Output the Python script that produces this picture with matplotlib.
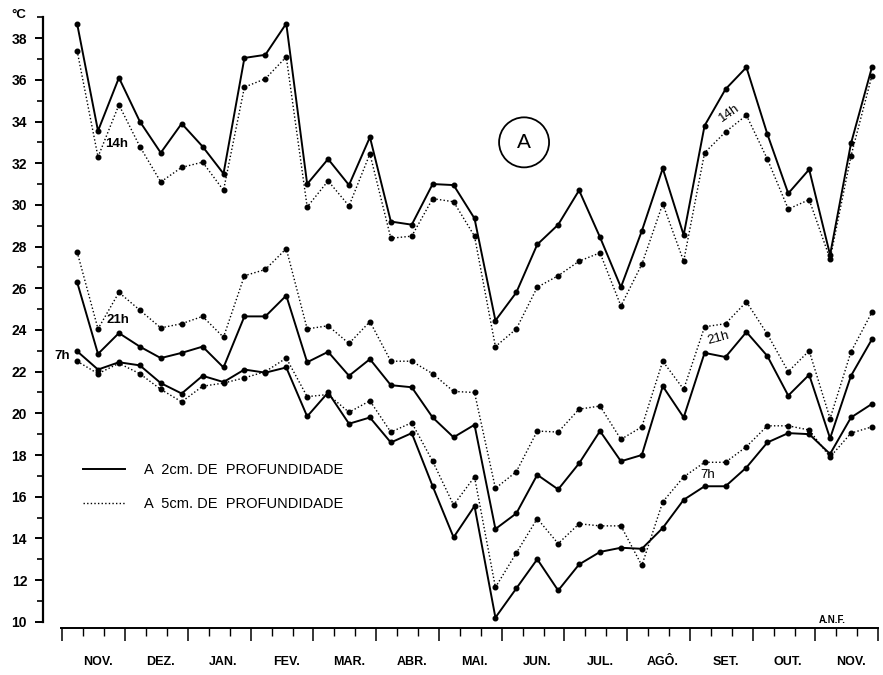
"""
    Temperatura do solo a 2 cm e 5 cm de profundidade (7h, 14h, 21h)
"""

import matplotlib
matplotlib.use('Agg')
import matplotlib.pyplot as plt
from matplotlib.lines import Line2D
from matplotlib.patches import Ellipse
import numpy as np

plt.rcParams['font.family'] = ['Liberation Sans', 'DejaVu Sans']

# meses (3 decendios por mes, de NOV. a NOV.)
meses = ["NOV.", "DEZ.", "JAN.", "FEV.", "MAR.", "ABR.", "MAI.",
         "JUN.", "JUL.", "AGÔ.", "SET.", "OUT.", "NOV."]

# 14h
t14_2cm = [38.7, 33.55, 36.1, 34.0, 32.5, 33.9, 32.8, 31.5, 37.05, 37.2, 38.7,
           31.0, 32.2, 30.95, 33.25, 29.2, 29.05, 31.0, 30.95, 29.35, 24.45,
           25.8, 28.1, 29.05, 30.7, 28.45, 26.05, 28.75, 31.75, 28.55, 33.8,
           35.55, 36.6, 33.4, 30.55, 31.7, 27.6, 32.95, 36.6]
t14_5cm = [37.4, 32.3, 34.8, 32.8, 31.1, 31.8, 32.05, 30.7, 35.65, 36.05, 37.1,
           29.9, 31.15, 29.95, 32.45, 28.4, 28.5, 30.3, 30.15, 28.5, 23.2,
           24.05, 26.05, 26.6, 27.3, 27.7, 25.15, 27.15, 30.05, 27.3, 32.5,
           33.5, 34.3, 32.2, 29.8, 30.25, 27.4, 32.35, 36.2]
# 21h
t21_2cm = [26.3, 22.85, 23.85, 23.2, 22.65, 22.9, 23.2, 22.2, 24.65, 24.65, 25.65,
           22.45, 22.95, 21.8, 22.6, 21.35, 21.25, 19.8, 18.85, 19.45, 14.45,
           15.2, 17.05, 16.35, 17.6, 19.15, 17.7, 18.0, 21.3, 19.8, 22.9,
           22.7, 23.9, 22.75, 20.85, 21.85, 18.8, 21.8, 23.55]
t21_5cm = [27.75, 24.05, 25.8, 24.95, 24.1, 24.3, 24.65, 23.65, 26.6, 26.9, 27.9,
           24.05, 24.2, 23.35, 24.4, 22.5, 22.5, 21.9, 21.05, 21.0, 16.4,
           17.2, 19.15, 19.1, 20.2, 20.35, 18.75, 19.35, 22.5, 21.15, 24.15,
           24.3, 25.35, 23.8, 22.0, 23.0, 19.75, 22.95, 24.85]
# 7h
t7_2cm = [22.98, 22.1, 22.45, 22.3, 21.45, 20.95, 21.8, 21.5, 22.1, 21.95, 22.2,
          19.85, 21.0, 19.5, 19.8, 18.6, 19.05, 16.5, 14.05, 15.55, 10.2,
          11.6, 13.0, 11.5, 12.75, 13.35, 13.55, 13.5, 14.5, 15.85, 16.5,
          16.5, 17.4, 18.6, 19.05, 19.0, 18.05, 19.8, 20.45]
t7_5cm = [22.5, 21.9, 22.4, 21.9, 21.15, 20.55, 21.3, 21.45, 21.7, 22.0, 22.65,
          20.8, 20.9, 20.05, 20.6, 19.1, 19.55, 17.7, 15.6, 16.95, 11.65,
          13.3, 14.95, 13.75, 14.7, 14.6, 14.6, 12.7, 15.75, 16.95, 17.65,
          17.65, 18.4, 19.4, 19.4, 19.2, 17.9, 19.05, 19.35]

x = np.arange(len(t14_2cm))

fig = plt.figure(figsize=(8.83, 6.75), dpi=100)
ax = fig.add_axes([43 / 883, 47 / 675, 840 / 883, 618 / 675])
ax.set_xlim(-1.63, 38.53)
ax.set_ylim(9.70, 39.35)

for serie in [t14_2cm, t21_2cm, t7_2cm]:
    ax.plot(x, serie, color='black', linewidth=1.4, marker='o', markersize=3.3)
for serie in [t14_5cm, t21_5cm, t7_5cm]:
    ax.plot(x, serie, color='black', linewidth=1.0, linestyle=(0, (1, 1.6)),
            marker='o', markersize=3.3)

# eixos
for s in ['top', 'right']:
    ax.spines[s].set_visible(False)
ax.spines['left'].set_bounds(10, 39)
ax.spines['left'].set_linewidth(1.6)
ax.spines['bottom'].set_bounds(-0.75, 38.3)
ax.spines['bottom'].set_linewidth(1.4)

ax.set_yticks(np.arange(10, 39, 2))
ax.set_yticks(np.arange(11, 40, 2), minor=True)
ax.tick_params(axis='y', which='major', length=6, width=1.4, pad=5.5,
               labelsize=10)
ax.tick_params(axis='y', which='minor', length=4.5, width=1.2)
for lbl in ax.get_yticklabels():
    lbl.set_fontweight('bold')

ax.set_xticks(np.arange(0, 14) * 3 - 0.7)
ax.set_xticks([i - 0.7 for i in range(40) if i % 3 != 0], minor=True)
ax.tick_params(axis='x', which='major', length=9, width=1.1, labelbottom=False)
ax.tick_params(axis='x', which='minor', length=5.5, width=1.0)

for k, m in enumerate(meses):
    ax.text(3 * k + 1, 8.07, m, ha='center', va='center', fontsize=9,
            fontweight='bold', clip_on=False)

ax.text(-2.77, 39.11, "°C", ha='center', va='center', fontsize=9.5,
        fontweight='bold', clip_on=False)

# rotulos das curvas
ax.text(1.91, 32.93, "14h", ha='center', va='center', fontsize=9.5, fontweight='bold')
ax.text(1.96, 24.46, "21h", ha='center', va='center', fontsize=9.5, fontweight='bold')
ax.text(-0.72, 22.74, "7h", ha='center', va='center', fontsize=9.5, fontweight='bold')
ax.text(31.2, 34.4, "14h", ha='center', va='center', fontsize=9.5, rotation=35)
ax.text(30.64, 23.6, "21h", ha='center', va='center', fontsize=9.5, rotation=15)
ax.text(30.16, 17.04, "7h", ha='center', va='center', fontsize=9.5)
ax.text(36.1, 10.08, "A.N.F.", ha='center', va='center', fontsize=7,
        fontweight='bold')

ax.add_patch(Ellipse((21.37, 33.0), 2.39, 2.4, fill=False, linewidth=1.3))
ax.text(21.37, 33.0, "A", ha='center', va='center', fontsize=15)

handles = [Line2D([], [], color='black', linewidth=1.4),
           Line2D([], [], color='black', linewidth=1.0, linestyle=(0, (1, 1.6)))]
labels = ["A  2cm. DE  PROFUNDIDADE", "A  5cm. DE  PROFUNDIDADE"]
ax.legend(handles, labels, loc='upper left', bbox_to_anchor=(0.0476, 0.267),
          frameon=False, fontsize=10.5, handlelength=2.9, handletextpad=1.3,
          labelspacing=1.35, borderpad=0, borderaxespad=0)

plt.savefig('out.png', dpi=100)
